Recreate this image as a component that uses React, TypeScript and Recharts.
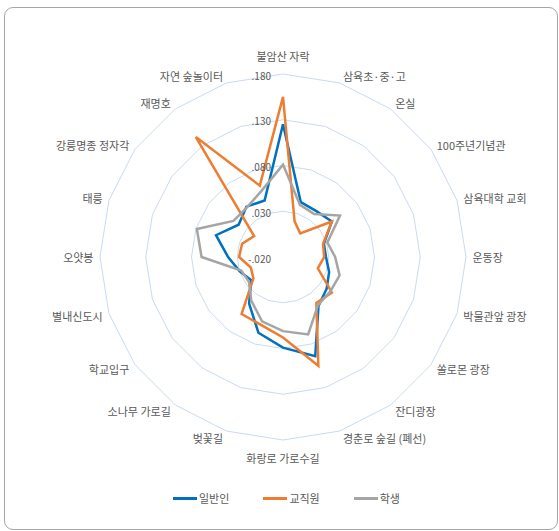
import React from 'react';
import { RadarChart, Radar, PolarGrid, PolarAngleAxis, PolarRadiusAxis, Legend } from 'recharts';

const categories = [
  '불암산 자락', '삼육초·중·고', '온실', '100주년기념관', '삼육대학 교회', '운동장',
  '박물관앞 광장', '쏠로몬 광장', '잔디광장', '경춘로 숲길 (폐선)', '화랑로 가로수길',
  '벚꽃길', '소나무 가로길', '학교입구', '별내신도시', '오얏봉', '태릉',
  '강릉명종 정자각', '재명호', '자연 숲놀이터',
];

const general = [0.125, 0.043, 0.042, 0.046, 0.027, 0.027, 0.033, 0.039, 0.046, 0.094, 0.079, 0.067, 0.043, 0.023, 0.030, 0.040, 0.057, 0.040, 0.048, 0.045];
const staff = [0.155, 0.021, 0.012, 0.046, 0.026, 0.025, 0.020, 0.046, 0.042, 0.105, 0.068, 0.058, 0.057, 0.020, 0.017, 0.028, 0.027, 0.019, 0.142, 0.062];
const students = [0.081, 0.040, 0.038, 0.057, 0.031, 0.037, 0.045, 0.044, 0.045, 0.069, 0.061, 0.054, 0.039, 0.026, 0.028, 0.069, 0.079, 0.047, 0.047, 0.056];

const radiusTicks = [-0.02, 0.03, 0.08, 0.13, 0.18];
const radiusDomain: [number, number] = [-0.02, 0.18];
const seriesNames = ['일반인', '교직원', '학생'];
const seriesKeys = ['general', 'staff', 'students'];
const seriesColors = ['#0070C0', '#ED7D31', '#A5A5A5'];

const data = categories.map((name, i) => ({
  name,
  general: general[i],
  staff: staff[i],
  students: students[i],
}));

const FONT = '"Noto Sans CJK KR", "Noto Sans", sans-serif';
const W = 552;
const H = 521;
const CX = 278;
const CY = 249;
const R = 183;

const gridRadii = radiusTicks
  .map((t) => ((t - radiusDomain[0]) / (radiusDomain[1] - radiusDomain[0])) * R)
  .filter((r) => r > 0);

function AngleTick(props: any) {
  const { payload, index } = props;
  const cx = typeof props.cx === 'number' ? props.cx : CX;
  const cy = typeof props.cy === 'number' ? props.cy : CY;
  const r = typeof props.radius === 'number' ? props.radius : R;
  const n = categories.length;
  const deg = typeof payload?.coordinate === 'number' ? payload.coordinate : 90 - (index * 360) / n;
  const a = (deg * Math.PI) / 180;
  const c = Math.cos(a);
  const s = Math.sin(a);
  const vx = cx + r * c;
  const vy = cy - r * s;
  let x = vx;
  let y = vy;
  let anchor: 'start' | 'end' | 'middle' = 'middle';
  if (Math.abs(c) < 1e-6) {
    y = vy - s * 18;
  } else {
    anchor = c > 0 ? 'start' : 'end';
    x = vx + Math.sign(c) * (2 + 4.5 * Math.abs(c));
    y = vy - s * 7;
  }
  return (
    <text x={x} y={y} textAnchor={anchor} dominantBaseline="central" fontSize={11} fill="#595959" fontFamily={FONT}>
      {payload.value}
    </text>
  );
}

function RadiusTick(props: any) {
  const { x, y, payload } = props;
  const v = Number(payload.value);
  const label = v.toFixed(3).replace(/^(-?)0\./, '$1.');
  return (
    <text x={x - 12} y={y + 1} textAnchor="end" dominantBaseline="central" fontSize={10} fill="#595959" fontFamily={FONT}>
      {label}
    </text>
  );
}

function LegendContent(props: any) {
  const items = ((props.payload || []) as any[])
    .slice()
    .sort((a: any, b: any) => seriesNames.indexOf(a.value) - seriesNames.indexOf(b.value));
  return (
    <div style={{ display: 'flex', alignItems: 'center', fontFamily: FONT, fontSize: 11, color: '#595959', lineHeight: '16px', whiteSpace: 'nowrap' }}>
      {items.map((it: any, i: number) => (
        <div key={i} style={{ display: 'flex', alignItems: 'center', marginRight: 34 }}>
          <span style={{ display: 'inline-block', width: 24, height: 3, background: it.color, marginRight: 2 }} />
          <span>{it.value}</span>
        </div>
      ))}
    </div>
  );
}

export default function App() {
  return (
    <div
      style={{
        position: 'absolute',
        left: 4,
        top: 7,
        width: 554,
        height: 523,
        border: '1px solid #a6a6a6',
        borderRadius: 9,
        boxSizing: 'border-box',
        background: '#fff',
      }}
    >
      <RadarChart width={W} height={H} data={data} cx={CX} cy={CY} outerRadius={R} startAngle={90} endAngle={-270}>
        <PolarGrid radialLines={false} stroke="#c8dbf1" strokeWidth={1} polarRadius={gridRadii} />
        <PolarAngleAxis dataKey="name" tick={<AngleTick />} tickLine={false} axisLine={false} />
        <PolarRadiusAxis
          angle={90}
          type="number"
          domain={radiusDomain}
          ticks={radiusTicks as any}
          tickCount={5}
          allowDataOverflow
          axisLine={false}
          tickLine={false}
          tick={<RadiusTick />}
        />
        {seriesKeys.map((k, i) => (
          <Radar
            key={k}
            name={seriesNames[i]}
            dataKey={k}
            stroke={seriesColors[i]}
            strokeWidth={2.5}
            fill="none"
            fillOpacity={0}
            dot={false}
            isAnimationActive={false}
          />
        ))}
        <Legend
          content={<LegendContent />}
          itemSorter={null as any}
          wrapperStyle={{ position: 'absolute', left: 168, top: 482, width: 320, height: 16 }}
        />
      </RadarChart>
    </div>
  );
}
